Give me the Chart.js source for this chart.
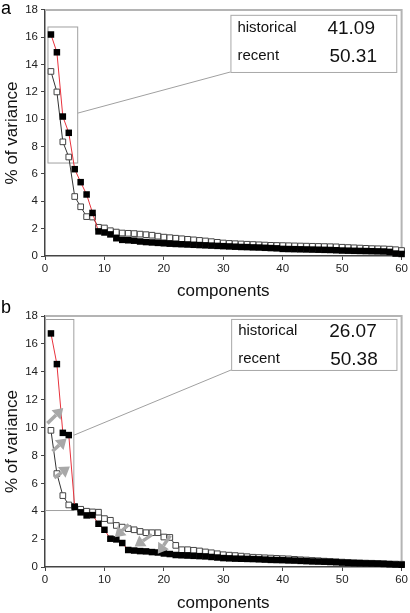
<!DOCTYPE html>
<html>
<head>
<meta charset="utf-8">
<script src="https://cdn.jsdelivr.net/npm/chart.js@4.4.0/dist/chart.umd.min.js"></script>
<style>
  html, body { margin: 0; padding: 0; background: #fff; }
  #wrap { position: relative; width: 410px; height: 613px; }
  .panel { position: absolute; left: 0; width: 410px; }
  #panelA { top: 0; height: 300px; }
  #panelB { top: 300px; height: 313px; }
</style>
</head>
<body>
<div id="wrap">
  <div class="panel" id="panelA"><canvas id="chartA"></canvas></div>
  <div class="panel" id="panelB"><canvas id="chartB"></canvas></div>
</div>
<script>
const components = [
  1, 2, 3, 4, 5, 6, 7, 8, 9, 10,
  11, 12, 13, 14, 15, 16, 17, 18, 19, 20,
  21, 22, 23, 24, 25, 26, 27, 28, 29, 30,
  31, 32, 33, 34, 35, 36, 37, 38, 39, 40,
  41, 42, 43, 44, 45, 46, 47, 48, 49, 50,
  51, 52, 53, 54, 55, 56, 57, 58, 59, 60
];

// panel a
const recentA = [
  16.2, 14.9, 10.2, 9.01, 6.35, 5.4, 4.5, 3.15, 1.8, 1.72,
  1.58, 1.3, 1.18, 1.15, 1.12, 1.06, 1.02, 0.99, 0.96, 0.93,
  0.9, 0.88, 0.86, 0.84, 0.82, 0.8, 0.78, 0.76, 0.74, 0.72,
  0.7, 0.68, 0.66, 0.65, 0.63, 0.62, 0.6, 0.58, 0.56, 0.52,
  0.51, 0.5, 0.49, 0.48, 0.47, 0.46, 0.45, 0.44, 0.42, 0.4,
  0.39, 0.38, 0.37, 0.36, 0.35, 0.34, 0.33, 0.3, 0.18, 0.15
];
const historicalA = [
  13.5, 12.0, 8.35, 7.24, 4.35, 3.6, 2.88, 2.85, 2.1, 2.05,
  1.85, 1.75, 1.68, 1.66, 1.64, 1.6, 1.56, 1.52, 1.45, 1.38,
  1.34, 1.3, 1.26, 1.22, 1.18, 1.14, 1.1, 1.05, 1.0, 0.95,
  0.92, 0.9, 0.88, 0.86, 0.84, 0.82, 0.8, 0.78, 0.77, 0.76,
  0.75, 0.74, 0.73, 0.72, 0.71, 0.7, 0.69, 0.68, 0.67, 0.64,
  0.62, 0.6, 0.58, 0.56, 0.54, 0.53, 0.52, 0.5, 0.46, 0.4
];

// panel b
const recentB = [
  16.75, 14.55, 9.62, 9.46, 4.3, 3.92, 3.7, 3.72, 3.1, 2.67,
  2.03, 1.98, 1.72, 1.22, 1.18, 1.14, 1.12, 1.07, 1.04, 0.97,
  0.93, 0.86, 0.84, 0.82, 0.8, 0.78, 0.76, 0.72, 0.68, 0.64,
  0.62, 0.6, 0.59, 0.58, 0.57, 0.55, 0.53, 0.51, 0.5, 0.49,
  0.47, 0.46, 0.44, 0.42, 0.4, 0.39, 0.38, 0.36, 0.34, 0.32,
  0.3, 0.28, 0.27, 0.26, 0.25, 0.24, 0.22, 0.2, 0.18, 0.16
];
const historicalB = [
  9.8, 6.7, 5.12, 4.45, 4.35, 4.14, 4.0, 3.95, 3.93, 3.47,
  3.35, 2.98, 2.86, 2.75, 2.67, 2.55, 2.46, 2.46, 2.46, 2.15,
  2.12, 1.55, 1.24, 1.24, 1.2, 1.15, 1.08, 1.02, 0.95, 0.88,
  0.85, 0.82, 0.78, 0.74, 0.7, 0.68, 0.66, 0.64, 0.62, 0.6,
  0.58, 0.55, 0.52, 0.5, 0.47, 0.45, 0.42, 0.4, 0.38, 0.35,
  0.33, 0.31, 0.3, 0.28, 0.27, 0.25, 0.24, 0.22, 0.21, 0.2
];

const xTicks = [0, 10, 20, 30, 40, 50, 60];
const yTicks = [0, 2, 4, 6, 8, 10, 12, 14, 16, 18];
const rowLabels = ['historical', 'recent'];
const sharesA = ['41.09', '50.31'];
const sharesB = ['26.07', '50.38'];

const FONT = '"Liberation Sans", Arial, sans-serif';

const toPoints = (vals) => components.map((c, i) => ({ x: c, y: vals[i] }));

function arrow(ctx, x1, y1, x2, y2) {
  const ang = Math.atan2(y2 - y1, x2 - x1);
  const headLen = 10, headW = 6.5;
  const bx = x2 - Math.cos(ang) * headLen;
  const by = y2 - Math.sin(ang) * headLen;
  ctx.save();
  ctx.strokeStyle = '#a8a8a8';
  ctx.fillStyle = '#a8a8a8';
  ctx.lineWidth = 3.5;
  ctx.beginPath();
  ctx.moveTo(x1, y1);
  ctx.lineTo(bx, by);
  ctx.stroke();
  ctx.beginPath();
  ctx.moveTo(x2, y2);
  ctx.lineTo(bx + Math.sin(ang) * headW, by - Math.cos(ang) * headW);
  ctx.lineTo(bx - Math.sin(ang) * headW, by + Math.cos(ang) * headW);
  ctx.closePath();
  ctx.fill();
  ctx.restore();
}

// frame, zoom box, callout, arrows, panel letter
const decor = {
  id: 'decor',
  beforeDatasetsDraw(chart, args, o) {
    const ctx = chart.ctx;
    const { x, y } = chart.scales;
    const ca = chart.chartArea;
    ctx.save();
    // top / right frame
    ctx.strokeStyle = '#b4b4b4';
    ctx.lineWidth = 2;
    ctx.beginPath();
    ctx.moveTo(ca.left, ca.top);
    ctx.lineTo(ca.right, ca.top);
    ctx.lineTo(ca.right, ca.bottom);
    ctx.stroke();
    // zoom rectangle + connector
    const r = o.rect;
    ctx.strokeStyle = '#a0a0a0';
    ctx.lineWidth = 1;
    ctx.strokeRect(x.getPixelForValue(r[0]), y.getPixelForValue(r[3]),
      x.getPixelForValue(r[1]) - x.getPixelForValue(r[0]),
      y.getPixelForValue(r[2]) - y.getPixelForValue(r[3]));
    ctx.beginPath();
    ctx.moveTo(x.getPixelForValue(o.link[0]), y.getPixelForValue(o.link[1]));
    ctx.lineTo(x.getPixelForValue(o.link[2]), y.getPixelForValue(o.link[3]));
    ctx.stroke();
    ctx.restore();
  },
  afterDatasetsDraw(chart, args, o) {
    const ctx = chart.ctx;
    const { x, y } = chart.scales;
    ctx.save();
    // callout box
    const b = o.box;
    const bx1 = x.getPixelForValue(b[0]), bx2 = x.getPixelForValue(b[1]);
    const by1 = y.getPixelForValue(b[3]), by2 = y.getPixelForValue(b[2]);
    ctx.fillStyle = '#fff';
    ctx.fillRect(bx1, by1, bx2 - bx1, by2 - by1);
    ctx.strokeStyle = '#a8a8a8';
    ctx.lineWidth = 1;
    ctx.strokeRect(bx1 + 0.5, by1 + 0.5, bx2 - bx1, by2 - by1);
    ctx.fillStyle = '#111';
    ctx.textBaseline = 'middle';
    ctx.textAlign = 'left';
    rowLabels.forEach((lab, i) => {
      const ty = by1 + o.rowY[i];
      ctx.font = '15px ' + FONT;
      ctx.fillText(lab, bx1 + 7, ty);
      ctx.font = '19px ' + FONT;
      ctx.fillText(o.shares[i], bx1 + o.numX[i], ty + 1);
    });
    // arrows
    (o.arrows || []).forEach(a => {
      arrow(ctx, x.getPixelForValue(a[0]), y.getPixelForValue(a[1]),
        x.getPixelForValue(a[2]), y.getPixelForValue(a[3]));
    });
    // panel letter
    ctx.fillStyle = '#000';
    ctx.font = '18px ' + FONT;
    ctx.textAlign = 'left';
    ctx.fillText(o.letter, 1, o.letterY);
    ctx.restore();
  }
};

function makePanel(canvasId, recent, historical, opts) {
  return new Chart(document.getElementById(canvasId), {
    type: 'line',
    data: {
      datasets: [
        {
          label: 'recent',
          data: toPoints(recent),
          borderColor: '#e8323c',
          borderWidth: 1,
          pointStyle: 'rect',
          pointRadius: 4.6,
          pointBackgroundColor: '#000',
          pointBorderColor: '#000',
          pointBorderWidth: 0,
          tension: 0,
          clip: false
        },
        {
          label: 'historical',
          data: toPoints(historical),
          borderColor: '#333',
          borderWidth: 1,
          pointStyle: 'rect',
          pointRadius: 4.0,
          pointBackgroundColor: '#fff',
          pointBorderColor: '#444',
          pointBorderWidth: 1,
          tension: 0,
          clip: false
        }
      ]
    },
    options: {
      responsive: true,
      maintainAspectRatio: false,
      animation: false,
      devicePixelRatio: 1,
      layout: { padding: { left: 0, top: opts.top, right: 7, bottom: 0 } },
      plugins: {
        legend: { display: false },
        tooltip: { enabled: false },
        decor: opts.decor
      },
      scales: {
        x: {
          type: 'linear',
          min: 0,
          max: 60,
          afterBuildTicks: (s) => { s.ticks = xTicks.map(v => ({ value: v })); },
          afterFit: (s) => { s.height = opts.xHeight; },
          grid: { display: true, drawOnChartArea: false, drawTicks: true, tickLength: 4, color: '#444' },
          border: { display: true, color: '#444', width: 1.5 },
          ticks: { color: '#222', font: { family: FONT, size: 11.5 }, padding: 2, maxRotation: 0 },
          title: {
            display: true, text: 'components', color: '#111',
            font: { family: FONT, size: 17, lineHeight: 1 },
            padding: { top: 0, bottom: opts.titlePad }
          }
        },
        y: {
          min: 0,
          max: 18,
          afterBuildTicks: (s) => { s.ticks = yTicks.map(v => ({ value: v })); },
          afterFit: (s) => { s.width = 45; },
          grid: { display: true, drawOnChartArea: false, drawTicks: true, tickLength: 4, color: '#444' },
          border: { display: true, color: '#444', width: 1.5 },
          ticks: { color: '#222', font: { family: FONT, size: 11.5 }, padding: 3 },
          title: {
            display: true, text: '% of variance', color: '#111',
            font: { family: FONT, size: 17, lineHeight: 1 },
            padding: { top: 3.5, bottom: 0 }
          }
        }
      }
    },
    plugins: [decor]
  });
}

makePanel('chartA', recentA, historicalA, {
  top: 6, xHeight: 44, titlePad: 0,
  decor: {
    letter: 'a', letterY: 9,
    rect: [0.5, 5.5, 6.8, 16.75],
    link: [5.5, 10.45, 31.2, 13.46],
    box: [31.2, 59.1, 13.46, 17.64],
    rowY: [13, 41],
    numX: [97, 99],
    shares: sharesA
  }
});

makePanel('chartB', recentB, historicalB, {
  top: 16, xHeight: 46, titlePad: 1.5,
  decor: {
    letter: 'b', letterY: 8,
    rect: [0.1, 4.85, 4.05, 17.75],
    link: [4.85, 9.45, 31.32, 14.13],
    box: [31.32, 59.13, 14.13, 17.79],
    rowY: [12, 40],
    numX: [98, 99],
    shares: sharesB,
    arrows: [
      [0.4, 10.3, 3.07, 11.4],
      [1.25, 8.3, 3.63, 9.22],
      [1.55, 6.4, 4.19, 7.2],
      [14.1, 3.05, 11.73, 2.14],
      [18.0, 2.32, 15.08, 1.47],
      [21.1, 2.25, 18.98, 0.95]
    ]
  }
});
</script>
</body>
</html>
